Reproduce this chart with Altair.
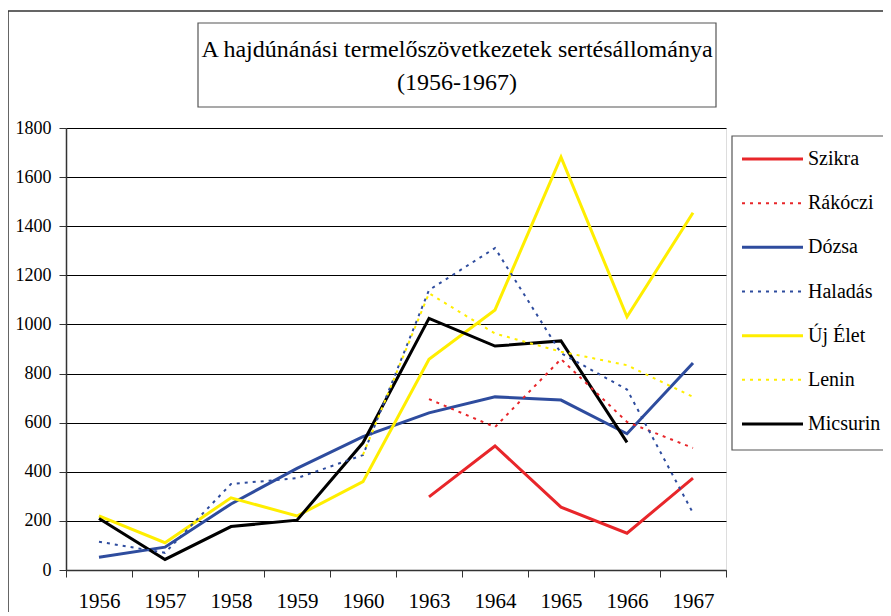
import altair as alt
import pandas as pd

years = ["1956", "1957", "1958", "1959", "1960", "1963", "1964", "1965", "1966", "1967"]
series = ["Szikra", "Rákóczi", "Dózsa", "Haladás", "Új Élet", "Lenin", "Micsurin"]
solid_series = ["Szikra", "Dózsa", "Új Élet", "Micsurin"]
dotted_series = ["Rákóczi", "Haladás", "Lenin"]

szikra = [None, None, None, None, None, 298, 505, 256, 150, 374]
rakoczi = [None, None, None, None, None, 696, 582, 859, 603, 497]
dozsa = [52, 93, 269, 414, 543, 640, 705, 692, 555, 843]
haladas = [115, 70, 350, 374, 468, 1140, 1311, 883, 735, 232]
uj_elet = [220, 111, 294, 220, 360, 858, 1059, 1681, 1031, 1455]
lenin = [None, None, None, None, 470, 1127, 963, 889, 834, 705]
micsurin = [210, 43, 177, 203, 518, 1025, 912, 933, 520, None]

title_lines = ["A hajdúnánási termelőszövetkezetek sertésállománya", "(1956-1967)"]

colors = ["#E8262A", "#E8262A", "#2E4C9E", "#2E4C9E", "#FFEE00", "#FFEE00", "#000000"]

values = [szikra, rakoczi, dozsa, haladas, uj_elet, lenin, micsurin]
rows = []
for name, vals in zip(series, values):
    for yr, v in zip(years, vals):
        if v is not None:
            rows.append({"year": yr, "value": v, "series": name})
df = pd.DataFrame(rows)
legend_df = pd.DataFrame({"series": series})

FONT = "Liberation Serif"

color_enc = alt.Color("series:N", scale=alt.Scale(domain=series, range=colors), legend=None)

frame = alt.Chart(pd.DataFrame({"a": [0]})).mark_rect(
    filled=False, stroke="#333333", strokeWidth=1.5
).encode(x=alt.value(-58), x2=alt.value(900), y=alt.value(-117), y2=alt.value(600))

title_box = alt.Chart(pd.DataFrame({"a": [0]})).mark_rect(
    fill="white", stroke="#555555", strokeWidth=1.2
).encode(x=alt.value(132), x2=alt.value(650), y=alt.value(-105), y2=alt.value(-21))

t1 = alt.Chart(pd.DataFrame({"t": [title_lines[0]]})).mark_text(
    font=FONT, fontSize=24, color="black", align="center", baseline="middle"
).encode(x=alt.value(391), y=alt.value(-78), text="t:N")
t2 = alt.Chart(pd.DataFrame({"t": [title_lines[1]]})).mark_text(
    font=FONT, fontSize=24, color="black", align="center", baseline="middle"
).encode(x=alt.value(391), y=alt.value(-45), text="t:N")

x_enc = alt.X("year:N", sort=years, title=None,
              scale=alt.Scale(domain=years, paddingInner=0, paddingOuter=0),
              axis=alt.Axis(labelAngle=0, tickBand="extent", grid=False, ticks=True,
                            tickSize=7, tickColor="#333333", domainColor="#333333",
                            domainWidth=1.5, labelFont=FONT, labelFontSize=21,
                            labelColor="black", labelPadding=30,
                            labelBaseline="alphabetic"))
y_enc = alt.Y("value:Q", title=None,
              scale=alt.Scale(domain=[0, 1800], nice=False),
              axis=alt.Axis(values=list(range(0, 1801, 200)), format="d", grid=True,
                            gridColor="black", gridWidth=1, tickSize=7,
                            tickColor="#333333", domainColor="#333333", domainWidth=1.5,
                            labelFont=FONT, labelFontSize=18, labelColor="black",
                            labelPadding=8))

solid_lines = alt.Chart(df).transform_filter(
    alt.FieldOneOfPredicate(field="series", oneOf=solid_series)
).mark_line(strokeWidth=3, clip=False).encode(
    x=x_enc, y=y_enc, color=color_enc, detail="series:N"
)
dotted_lines = alt.Chart(df).transform_filter(
    alt.FieldOneOfPredicate(field="series", oneOf=dotted_series)
).mark_line(strokeWidth=2, strokeDash=[3, 5], clip=False).encode(
    x=x_enc, y=y_enc, color=color_enc, detail="series:N"
)
lines = alt.layer(solid_lines, dotted_lines)

legend_box = alt.Chart(pd.DataFrame({"a": [0]})).mark_rect(
    fill="white", stroke="#555555", strokeWidth=1.2
).encode(x=alt.value(666), x2=alt.value(823), y=alt.value(8), y2=alt.value(322))

ly = alt.Y("series:N", scale=alt.Scale(type="point", domain=series, range=[31, 296], padding=0),
           axis=None, title=None)

legend_solid = alt.Chart(legend_df).transform_filter(
    alt.FieldOneOfPredicate(field="series", oneOf=solid_series)
).mark_rule(strokeWidth=3).encode(
    x=alt.value(676), x2=alt.value(737), y=ly, color=color_enc
)
legend_dotted = alt.Chart(legend_df).transform_filter(
    alt.FieldOneOfPredicate(field="series", oneOf=dotted_series)
).mark_rule(strokeWidth=2, strokeDash=[3, 5]).encode(
    x=alt.value(676), x2=alt.value(737), y=ly, color=color_enc
)
legend_text = alt.Chart(legend_df).mark_text(
    font=FONT, fontSize=20, color="black", align="left", baseline="middle"
).encode(x=alt.value(742), y=ly, text="series:N")
legend = alt.layer(legend_box, legend_solid, legend_dotted, legend_text)

chart = alt.layer(
    lines, title_box, t1, t2, legend, frame
).resolve_scale(y="independent").properties(
    width=660, height=442,
    autosize=alt.AutoSizeParams(type="none"),
    padding={"left": 58, "top": 120, "right": 157, "bottom": 42},
).configure_view(
    fill="#C0C0C0", stroke="#808080", strokeWidth=2
).configure(background="white")

chart.save("out.html", embed_options={"renderer": "svg", "actions": False})
